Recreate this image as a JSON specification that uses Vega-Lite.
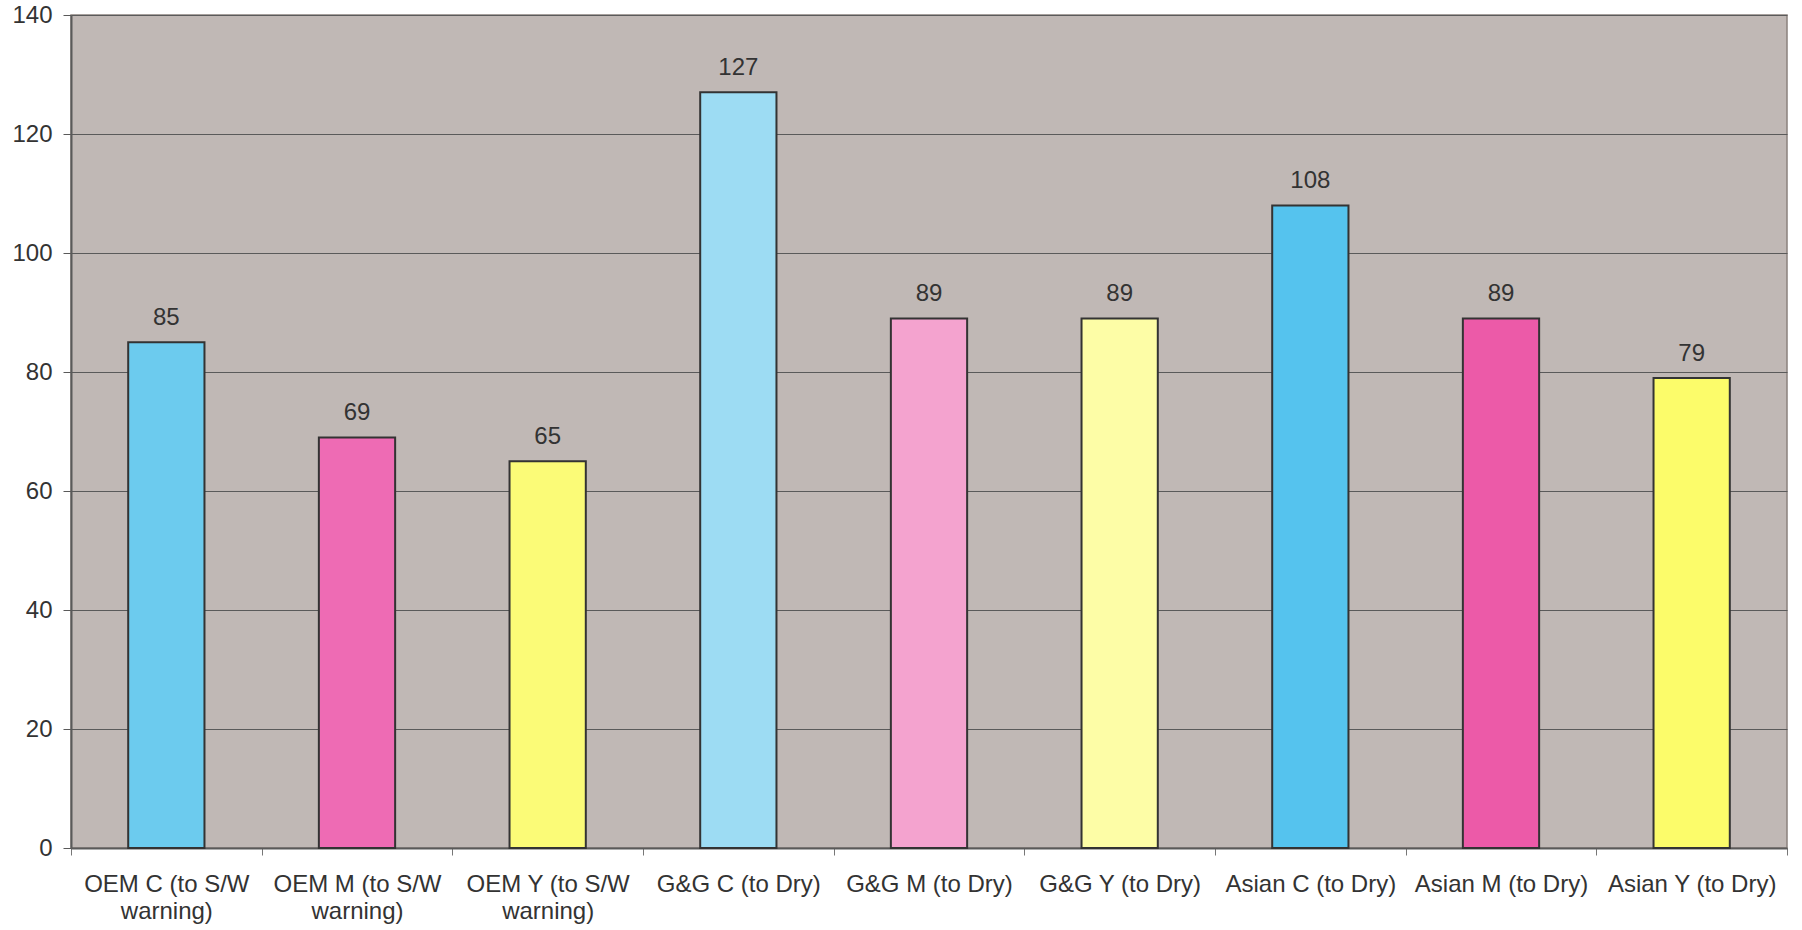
{
  "$schema": "https://vega.github.io/schema/vega-lite/v6.json",
  "width": 1716,
  "height": 833,
  "autosize": {"type": "none"},
  "padding": {"left": 71, "top": 15, "right": 15, "bottom": 82},
  "background": "#ffffff",
  "config": {
    "view": {"fill": "#c0b8b5", "stroke": "#8a817d", "strokeWidth": 1.5},
    "font": "Liberation Sans"
  },
  "data": {
    "values": [
      {"category": "OEM C (to S/W warning)", "value": 85, "ink": "C"},
      {"category": "OEM M (to S/W warning)", "value": 69, "ink": "M"},
      {"category": "OEM Y (to S/W warning)", "value": 65, "ink": "Y"},
      {"category": "G&G C (to Dry)", "value": 127, "ink": "C2"},
      {"category": "G&G M (to Dry)", "value": 89, "ink": "M2"},
      {"category": "G&G Y (to Dry)", "value": 89, "ink": "Y2"},
      {"category": "Asian C (to Dry)", "value": 108, "ink": "C3"},
      {"category": "Asian M (to Dry)", "value": 89, "ink": "M3"},
      {"category": "Asian Y (to Dry)", "value": 79, "ink": "Y3"}
    ]
  },
  "encoding": {
    "x": {
      "field": "category",
      "type": "nominal",
      "sort": null,
      "scale": {"paddingInner": 0, "paddingOuter": 0},
      "axis": {
        "title": null,
        "labelAngle": 0,
        "labelFontSize": 24,
        "labelColor": "#333333",
        "labelPadding": 17,
        "labelLineHeight": 27,
        "labelLimit": 0,
        "tickBand": "extent",
        "tickSize": 7,
        "tickColor": "#777777",
        "tickWidth": 1,
        "domainColor": "#5a5a5a",
        "domainWidth": 2,
        "labelExpr": "indexof(datum.label, ' warning)') > 0 ? [replace(datum.label, ' warning)', ''), 'warning)'] : datum.label"
      }
    },
    "y": {
      "field": "value",
      "type": "quantitative",
      "scale": {"domain": [0, 140], "nice": false},
      "axis": {
        "title": null,
        "values": [0, 20, 40, 60, 80, 100, 120, 140],
        "labelFontSize": 24,
        "labelColor": "#333333",
        "labelPadding": 11,
        "tickSize": 8,
        "tickColor": "#5a5a5a",
        "domainColor": "#5a5a5a",
        "domainWidth": 2,
        "gridColor": "#5a5a5a",
        "gridWidth": 1
      }
    }
  },
  "layer": [
    {
      "mark": {"type": "bar", "stroke": "#333333", "strokeWidth": 2, "width": {"band": 0.4}},
      "encoding": {
        "fill": {
          "field": "ink",
          "type": "nominal",
          "legend": null,
          "scale": {
            "domain": ["C", "M", "Y", "C2", "M2", "Y2", "C3", "M3", "Y3"],
            "range": ["#6ccbee", "#ee6bb4", "#fbfb77", "#9ddcf3", "#f4a3cf", "#fdfda6", "#55c3ee", "#ec5aa8", "#fcfc6a"]
          }
        }
      }
    },
    {
      "mark": {"type": "text", "baseline": "alphabetic", "dy": -17, "fontSize": 24, "color": "#333333"},
      "encoding": {"text": {"field": "value", "type": "quantitative"}}
    }
  ]
}
